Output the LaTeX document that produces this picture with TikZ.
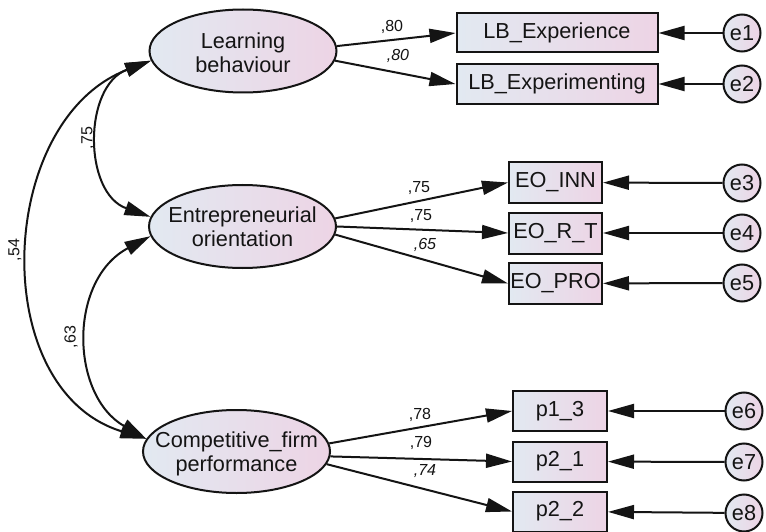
\documentclass[tikz,border=0pt]{standalone}
\usepackage{fontspec}
\setmainfont{Liberation Sans}
\usetikzlibrary{arrows.meta,shapes.geometric}
\definecolor{gl}{RGB}{226,233,241}
\definecolor{gr}{RGB}{237,212,229}
\definecolor{ink}{RGB}{20,20,20}
\begin{document}
\begin{tikzpicture}[x=1pt,y=-1pt,
  lat/.style={ellipse,draw=ink,line width=2pt,left color=gl,right color=gr,minimum width=187pt,minimum height=83pt,inner sep=0pt},
  lattxt/.style={align=center,font=\fontsize{21.7}{24}\selectfont,inner sep=0pt,text=ink},
  obs/.style={rectangle,draw=ink,line width=2pt,left color=gl,right color=gr,minimum height=40pt,inner sep=0pt,font=\fontsize{21.7}{24}\selectfont,text=ink},
  err/.style={circle,draw=ink,line width=2pt,left color=gl,right color=gr,minimum size=37pt,inner sep=0pt,font=\fontsize{21.7}{24}\selectfont,text=ink},
  arr/.style={-{Triangle[length=26pt,width=14pt]},line width=2pt,draw=ink},
  darr/.style={{Triangle[length=26pt,width=14pt]}-{Triangle[length=26pt,width=14pt]},line width=2pt,draw=ink},
  lbl/.style={font=\fontsize{16}{18}\selectfont,inner sep=0pt,text=ink},
]
\useasboundingbox[fill=white] (0,0) rectangle (766,532);

% latent variables
\node[lat] (LB) at (243,51) {};
\node[lattxt] (LBt) at ([yshift=-1.5pt]LB) {Learning\\behaviour};
\node[lat] (EO) at (242.5,226.5) {};
\node[lattxt] (EOt) at (EO) {Entrepreneurial\\orientation};
\node[lat] (CFP) at (236.5,451.5) {};
\node[lattxt] (CFPt) at ([yshift=-2.5pt]CFP) {Competitive\_firm\\performance};

% observed variables
\node[obs,minimum width=201pt,minimum height=39pt] (x1) at (557,33) {LB\_Experience};
\node[obs,minimum width=201pt,minimum height=40pt] (x2) at (557,84) {LB\_Experimenting};
\node[obs,minimum width=93pt,minimum height=41pt] (o1) at (555.5,182.5) {EO\_INN};
\node[obs,minimum width=93pt,minimum height=41pt] (o2) at (555.5,233) {EO\_R\_T};
\node[obs,minimum width=93pt,minimum height=41pt] (o3) at (555.5,283.5) {EO\_PRO};
\node[obs,minimum width=94pt] (p1) at (560,411) {p1\_3};
\node[obs,minimum width=94pt] (p2) at (560,461.5) {p2\_1};
\node[obs,minimum width=94pt] (p3) at (560,511.5) {p2\_2};

% error terms
\node[err] (e1) at (742,33) {e1};
\node[err] (e2) at (742,84) {e2};
\node[err] (e3) at (742,183) {e3};
\node[err] (e4) at (742,233) {e4};
\node[err] (e5) at (742,283) {e5};
\node[err] (e6) at (744,411) {e6};
\node[err] (e7) at (744,462) {e7};
\node[err] (e8) at (744,513) {e8};

% error arrows
\draw[arr] (e1) -- (x1);
\draw[arr] (e2) -- (x2);
\draw[arr] (e3) -- (o1);
\draw[arr] (e4) -- (o2);
\draw[arr] (e5) -- (o3);
\draw[arr] (e6) -- (p1);
\draw[arr] (e7) -- (p2);
\draw[arr] (e8) -- (p3);

% loadings
\draw[arr] (LB.3) -- (x1.west);
\draw[arr] (LB.-6) -- (x2.west);
\draw[arr] (EO.5) -- (o1.west);
\draw[arr] (EO.0) -- (o2.west);
\draw[arr] (EO.-5) -- (o3.west);
\draw[arr] (CFP.5) -- (p1.west);
\draw[arr] (CFP.-3) -- (p2.west);
\draw[arr] (CFP.-8) -- (p3.west);

\node[lbl] (l1) at (392,27) {,80};
\node[lbl] (l2) at (398,56) {\itshape ,80};
\node[lbl] (l3) at (419,188) {,75};
\node[lbl] (l4) at (421,216) {,75};
\node[lbl] (l5) at (425,245) {\itshape ,65};
\node[lbl] (l6) at (420,415) {,78};
\node[lbl] (l7) at (421,443) {,79};
\node[lbl] (l8) at (425,471) {\itshape ,74};

% covariances
\draw[darr] (LB.186) .. controls (83,86) and (83,193) .. (EO.174);
\draw[darr] (EO.186) .. controls (68,280) and (70,395) .. (CFP.172);
\draw[darr] (LB.186) .. controls (-4,120) and (-14,390) .. (CFP.172);

\node[lbl,rotate=90] (c1) at (88,138) {,75};
\node[lbl,rotate=90] (c2) at (15,250) {,54};
\node[lbl,rotate=90] (c3) at (71,337) {,63};
\end{tikzpicture}
\end{document}
